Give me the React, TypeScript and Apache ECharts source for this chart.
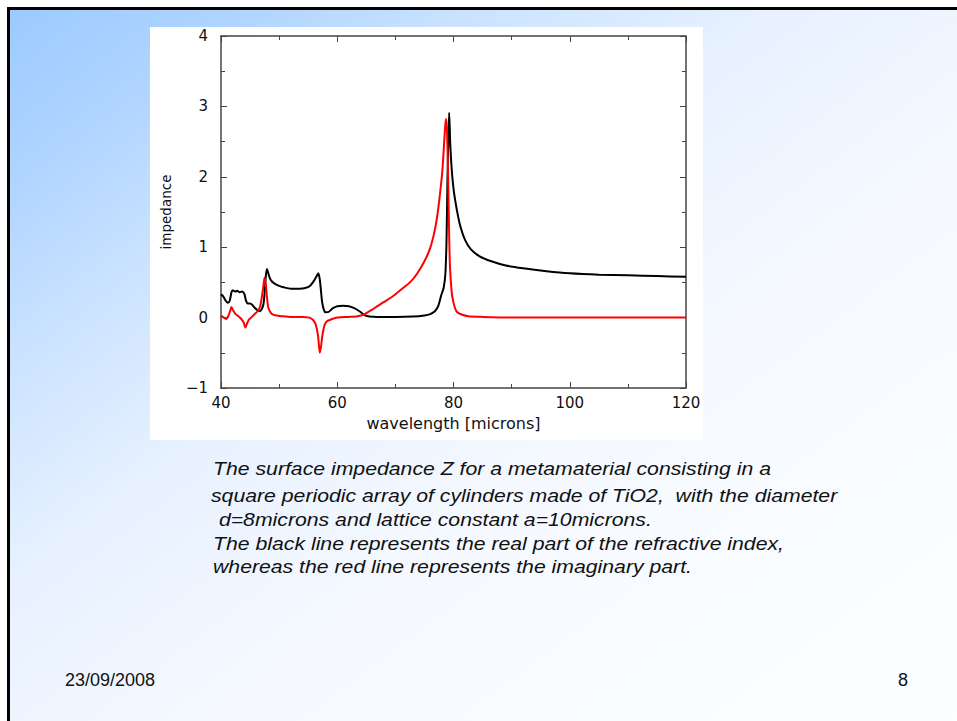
import React, { useEffect, useRef } from "react";
import * as echarts from "echarts";

// ---- data ----
const xTicks = [40, 60, 80, 100, 120];
const yTicks = [-1, 0, 1, 2, 3, 4];

// Real part (black line)
const realX = [
  40.0, 40.4, 40.8, 41.2, 41.5, 41.8, 42.0, 42.4, 42.8, 43.2, 43.6, 44.0, 44.3, 44.6, 45.0,
  45.4, 45.8, 46.2, 46.6, 47.0, 47.3, 47.5, 47.7, 47.9, 48.1, 48.4, 48.8, 49.3, 50.0, 50.8,
  52.0, 53.5, 54.5, 55.3, 55.9, 56.4, 56.75, 57.0, 57.2, 57.4, 57.7, 58.0, 58.5, 59.2, 60.0,
  61.0, 62.0, 63.0, 64.0, 64.8, 65.5, 67.0, 70.0, 73.0, 75.0, 76.0, 76.8, 77.4, 77.9, 78.3,
  78.6, 78.8, 78.95, 79.1, 79.25, 79.45, 79.7, 80.05, 80.6, 81.2, 82.0, 83.0, 84.5, 86.5,
  89.0, 92.0, 96.0, 100.0, 105.0, 110.0, 115.0, 120.0,
];
const realY = [
  0.33, 0.3, 0.24, 0.21, 0.24, 0.36, 0.39, 0.37, 0.38, 0.36, 0.37, 0.34, 0.24, 0.2, 0.2,
  0.18, 0.14, 0.11, 0.09, 0.12, 0.19, 0.35, 0.58, 0.69, 0.64, 0.56, 0.51, 0.48, 0.45, 0.43,
  0.41, 0.41, 0.42, 0.45, 0.51, 0.58, 0.63, 0.54, 0.38, 0.22, 0.11, 0.075, 0.08, 0.13, 0.16,
  0.17, 0.16, 0.13, 0.08, 0.03, 0.015, 0.01, 0.01, 0.015, 0.03, 0.05, 0.09, 0.17, 0.32, 0.42,
  0.62, 1.1, 1.9, 2.5, 2.91, 2.45, 2.1, 1.8, 1.52, 1.29, 1.1, 0.97, 0.87, 0.8,
  0.74, 0.7, 0.66, 0.63, 0.61, 0.6, 0.59, 0.58,
];

// Imaginary part (red line)
const imagX = [
  40.0, 40.5, 40.9, 41.3, 41.6, 41.8, 42.1, 42.5, 43.0, 43.5, 43.9, 44.2, 44.5, 44.8, 45.3,
  45.8, 46.3, 46.7, 47.0, 47.3, 47.5, 47.7, 47.9, 48.1, 48.4, 48.8, 49.5, 50.5, 52.0, 54.0,
  55.2, 55.8, 56.3, 56.7, 57.0, 57.2, 57.4, 57.7, 58.1, 58.8, 60.0, 62.0, 63.5, 64.5, 65.5,
  66.5, 68.0, 69.5, 71.0, 72.5, 73.7, 75.0, 76.0, 76.8, 77.3, 77.8, 78.1, 78.4, 78.6, 78.75,
  78.9, 79.05, 79.2, 79.37, 79.6, 79.8, 80.2, 80.6, 81.5, 82.5, 85.0, 90.0, 100.0, 120.0,
];
const imagY = [
  0.03, 0.0, -0.02, 0.03, 0.1, 0.15, 0.1, 0.05, 0.02, -0.02, -0.07, -0.14, -0.08, -0.03, 0.01,
  0.05, 0.09, 0.15, 0.28, 0.45, 0.57, 0.48, 0.3, 0.16, 0.09, 0.05, 0.03, 0.02, 0.01, 0.01,
  0.0, -0.03, -0.1, -0.26, -0.5, -0.42, -0.28, -0.14, -0.06, -0.03, 0.0, 0.01, 0.02, 0.04, 0.09,
  0.14, 0.22, 0.3, 0.4, 0.5, 0.62, 0.8, 0.99, 1.25, 1.5, 1.85, 2.1, 2.5, 2.75, 2.82,
  2.6, 2.1, 1.4, 0.77, 0.45, 0.29, 0.15, 0.08, 0.04, 0.02, 0.01, 0.0, 0.0, 0.0,
];

const captionLines = [
  "The surface impedance Z for a metamaterial consisting in a",
  "square periodic array of cylinders made of TiO2,  with the diameter",
  " d=8microns and lattice constant a=10microns.",
  "The black line represents the real part of the refractive index,",
  "whereas the red line represents the imaginary part.",
];
const footerDate = "23/09/2008";
const pageNumber = "8";

const zip = (xs: number[], ys: number[]) => xs.map((x, i) => [x, ys[i]]);

export default function App() {
  const ref = useRef<HTMLDivElement>(null);

  useEffect(() => {
    if (!ref.current) return;
    const chart = echarts.init(ref.current, undefined, { renderer: "svg" });

    const axisFont = "DejaVu Sans";
    const frameColor = "#444";

    const captionX = [213, 211, 213, 213, 213];
    const captionY = [469, 496, 520, 544, 567];

    const option: any = {
      animation: false,
      backgroundColor: "#ffffff",
      graphic: [
        {
          type: "rect",
          z: -20,
          shape: { x: 10, y: 10, width: 947, height: 711 },
          style: {
            fill: new echarts.graphic.LinearGradient(0, 0, 1, 1, [
              { offset: 0, color: "#9ccaff" },
              { offset: 0.12, color: "#afd4ff" },
              { offset: 0.25, color: "#cbe3ff" },
              { offset: 0.4, color: "#e7f1ff" },
              { offset: 0.6, color: "#f5f9ff" },
              { offset: 1, color: "#fdfeff" },
            ]),
          },
        },
        {
          type: "rect",
          z: -19,
          shape: { x: 7, y: 7, width: 950, height: 3 },
          style: { fill: "#000" },
        },
        {
          type: "rect",
          z: -19,
          shape: { x: 7, y: 7, width: 3, height: 714 },
          style: { fill: "#000" },
        },
        {
          type: "rect",
          z: -18,
          shape: { x: 150, y: 27, width: 553, height: 413 },
          style: { fill: "#ffffff" },
        },
        ...captionLines.map((t, i) => ({
          type: "text",
          z: 5,
          x: captionX[i],
          y: captionY[i],
          scaleX: 1.18,
          style: {
            text: t,
            fill: "#111",
            font: "italic 18px 'Liberation Sans', Arial, sans-serif",
            verticalAlign: "middle",
          },
        })),
        {
          type: "text",
          z: 5,
          x: 65,
          y: 680,
          style: {
            text: footerDate,
            fill: "#111",
            font: "18px 'Liberation Sans', Arial, sans-serif",
            verticalAlign: "middle",
          },
        },
        {
          type: "text",
          z: 5,
          x: 903,
          y: 680,
          style: {
            text: pageNumber,
            fill: "#111",
            font: "18px 'Liberation Sans', Arial, sans-serif",
            align: "center",
            verticalAlign: "middle",
          },
        },
      ],
      grid: { left: 221, right: 271, top: 36, bottom: 333, containLabel: false },
      xAxis: [
        {
          type: "value",
          min: xTicks[0],
          max: xTicks[xTicks.length - 1],
          interval: 20,
          name: "wavelength [microns]",
          nameLocation: "middle",
          nameGap: 27,
          nameTextStyle: { fontFamily: axisFont, fontSize: 16, color: "#111" },
          axisLine: { show: true, onZero: false, lineStyle: { color: frameColor, width: 1.5 } },
          axisTick: { show: true, inside: true, length: 6, lineStyle: { color: frameColor } },
          minorTick: { show: true, splitNumber: 2, length: 4, lineStyle: { color: frameColor } },
          axisLabel: {
            show: true,
            margin: 7,
            fontFamily: axisFont,
            fontSize: 15,
            color: "#111",
            formatter: (v: number) => (xTicks.includes(v) ? String(v) : ""),
          },
          splitLine: { show: false },
        },
        {
          type: "value",
          position: "top",
          min: xTicks[0],
          max: xTicks[xTicks.length - 1],
          interval: 20,
          axisLine: { show: true, onZero: false, lineStyle: { color: frameColor, width: 1.5 } },
          axisTick: { show: true, inside: true, length: 6, lineStyle: { color: frameColor } },
          minorTick: { show: true, splitNumber: 2, length: 4, lineStyle: { color: frameColor } },
          axisLabel: { show: false },
          splitLine: { show: false },
        },
      ],
      yAxis: [
        {
          type: "value",
          min: yTicks[0],
          max: yTicks[yTicks.length - 1],
          interval: 1,
          name: "impedance",
          nameLocation: "middle",
          nameGap: 48,
          nameTextStyle: { fontFamily: axisFont, fontSize: 13.5, color: "#111" },
          axisLine: { show: true, onZero: false, lineStyle: { color: frameColor, width: 1.5 } },
          axisTick: { show: true, inside: true, length: 6, lineStyle: { color: frameColor } },
          minorTick: { show: true, splitNumber: 2, length: 4, lineStyle: { color: frameColor } },
          axisLabel: {
            show: true,
            margin: 13,
            fontFamily: axisFont,
            fontSize: 15,
            color: "#111",
            formatter: (v: number) => (v < 0 ? "\u2212" + Math.abs(v) : String(v)),
          },
          splitLine: { show: false },
        },
        {
          type: "value",
          position: "right",
          min: yTicks[0],
          max: yTicks[yTicks.length - 1],
          interval: 1,
          axisLine: { show: true, onZero: false, lineStyle: { color: frameColor, width: 1.5 } },
          axisTick: { show: true, inside: true, length: 6, lineStyle: { color: frameColor } },
          minorTick: { show: true, splitNumber: 2, length: 4, lineStyle: { color: frameColor } },
          axisLabel: { show: false },
          splitLine: { show: false },
        },
      ],
      series: [
        {
          name: "Re",
          type: "line",
          xAxisIndex: 0,
          yAxisIndex: 0,
          data: zip(realX, realY),
          showSymbol: false,
          symbol: "none",
          smooth: 0.25,
          lineStyle: { color: "#000000", width: 2 },
          z: 3,
        },
        {
          name: "Im",
          type: "line",
          xAxisIndex: 0,
          yAxisIndex: 0,
          data: zip(imagX, imagY),
          showSymbol: false,
          symbol: "none",
          smooth: 0.25,
          lineStyle: { color: "#ff0000", width: 2 },
          z: 4,
        },
      ],
    };

    chart.setOption(option);
    return () => chart.dispose();
  }, []);

  return (
    <div
      ref={ref}
      style={{ position: "absolute", left: 0, top: 0, width: 957, height: 721 }}
    />
  );
}
